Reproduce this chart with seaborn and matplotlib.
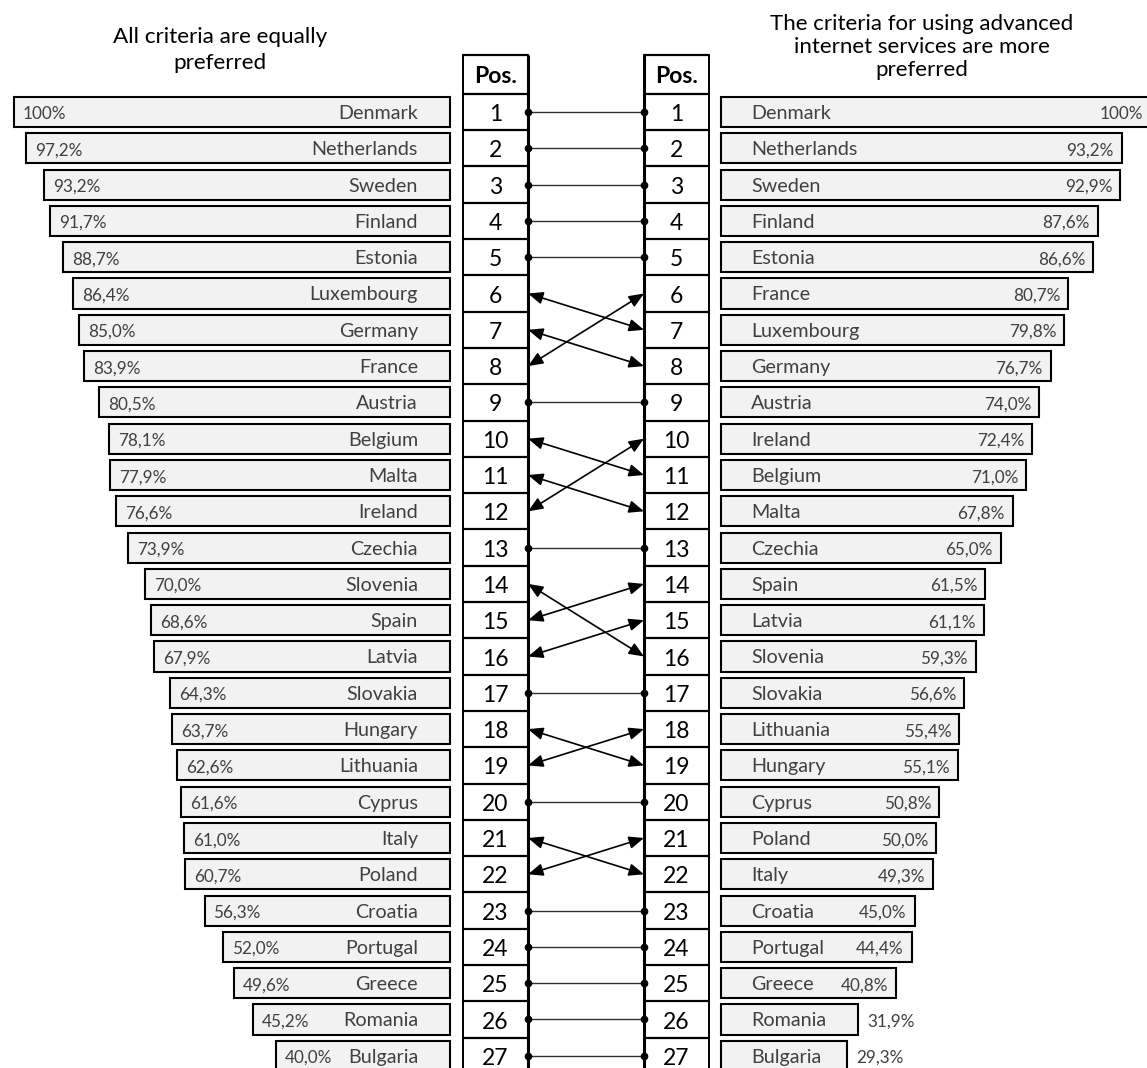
import matplotlib
matplotlib.use("Agg")
import matplotlib.pyplot as plt
import seaborn as sns
import pandas as pd

# ---- data -------------------------------------------------------------
left_countries = ["Denmark", "Netherlands", "Sweden", "Finland", "Estonia",
                  "Luxembourg", "Germany", "France", "Austria", "Belgium",
                  "Malta", "Ireland", "Czechia", "Slovenia", "Spain", "Latvia",
                  "Slovakia", "Hungary", "Lithuania", "Cyprus", "Italy",
                  "Poland", "Croatia", "Portugal", "Greece", "Romania",
                  "Bulgaria"]
left_values = [100, 97.2, 93.2, 91.7, 88.7, 86.4, 85.0, 83.9, 80.5, 78.1,
               77.9, 76.6, 73.9, 70.0, 68.6, 67.9, 64.3, 63.7, 62.6, 61.6,
               61.0, 60.7, 56.3, 52.0, 49.6, 45.2, 40.0]

right_countries = ["Denmark", "Netherlands", "Sweden", "Finland", "Estonia",
                   "France", "Luxembourg", "Germany", "Austria", "Ireland",
                   "Belgium", "Malta", "Czechia", "Spain", "Latvia",
                   "Slovenia", "Slovakia", "Lithuania", "Hungary", "Cyprus",
                   "Poland", "Italy", "Croatia", "Portugal", "Greece",
                   "Romania", "Bulgaria"]
right_values = [100, 93.2, 92.9, 87.6, 86.6, 80.7, 79.8, 76.7, 74.0, 72.4,
                71.0, 67.8, 65.0, 61.5, 61.1, 59.3, 56.6, 55.4, 55.1, 50.8,
                50.0, 49.3, 45.0, 44.4, 40.8, 31.9, 29.3]

left_title = "All criteria are equally\npreferred"
right_title = "The criteria for using advanced\ninternet services are more\npreferred"
pos_header = "Pos."

# ---- layout (pixels) --------------------------------------------------
W, H = 1147, 1068
ROW0, PITCH = 112.0, 36.3          # centre of first row, row spacing
Y_BOTTOM = (H - ROW0) / PITCH
Y_TOP = -ROW0 / PITCH

NAME_FS, PCT_FS = 14.2, 12.3


def pct(v):
    return "100%" if v == 100 else f"{v:.1f}".replace(".", ",") + "%"


sns.set_theme(style="white")
plt.rcParams["font.family"] = ["Lato", "DejaVu Sans"]

fig = plt.figure(figsize=(W / 100, H / 100), dpi=100)
fig.patch.set_facecolor("white")

# overlay canvas for the position columns and connectors
mid = fig.add_axes([0, 0, 1, 1])
mid.set_xlim(0, W)
mid.set_ylim(Y_BOTTOM, Y_TOP)
mid.axis("off")

n = len(left_countries)
hdr_top = (55 - ROW0) / PITCH
for x0, x1, thick_left in [(463, 528, False), (644, 709, True)]:
    lw_l, lw_r = (2.2, 1.4) if thick_left else (1.4, 2.2)
    mid.plot([x0, x0], [hdr_top, Y_BOTTOM + 1], color="black", lw=lw_l,
             solid_capstyle="butt")
    mid.plot([x1, x1], [hdr_top, Y_BOTTOM + 1], color="black", lw=lw_r,
             solid_capstyle="butt")
    mid.plot([x0, x1], [hdr_top, hdr_top], color="black", lw=1.6)
    for b in range(n + 1):
        mid.plot([x0, x1], [b - 0.5, b - 0.5], color="black", lw=1.6)
    xc = (x0 + x1) / 2
    mid.text(xc, (hdr_top - 0.5) / 2 + 0.05, pos_header, ha="center",
             va="center", fontsize=16.5, fontweight="bold", color="black")
    for i in range(n):
        mid.text(xc, i + 0.07, str(i + 1), ha="center", va="center",
                 fontsize=16.5, color="black")

# connectors between ranks
XL, XR = 528, 644
for i, c in enumerate(left_countries):
    j = right_countries.index(c)
    if i == j:
        mid.plot([XL, XR], [i, i], color="#303030", lw=1.0, marker="o",
                 markersize=4.5, markerfacecolor="black",
                 markeredgecolor="black")
    else:
        mid.annotate("", xy=(XR, j), xytext=(XL, i),
                     arrowprops=dict(arrowstyle="<|-|>,head_length=0.6,head_width=0.25",
                                     color="black", lw=1.2, mutation_scale=15,
                                     shrinkA=0, shrinkB=0))

# ---- left bars (growing leftwards) -----------------------------------
PXL = 4.36
axl = fig.add_axes([0, 0, 460 / W, 1])
dfl = pd.DataFrame({"country": left_countries, "value": left_values})
sns.barplot(data=dfl, x="value", y="country", orient="h", color="#f2f2f2",
            saturation=1, edgecolor="black", linewidth=1.5, width=0.83,
            ax=axl)
axl.set_xlim(450 / PXL, -10 / PXL)
axl.set_ylim(Y_BOTTOM, Y_TOP)
axl.axis("off")
axl.patch.set_alpha(0)
for i, (c, v) in enumerate(zip(left_countries, left_values)):
    axl.text(v - 9 / PXL, i + 0.06, pct(v), ha="left", va="center",
             fontsize=PCT_FS, color="#404040")
    axl.text(32 / PXL, i + 0.04, c, ha="right", va="center",
             fontsize=NAME_FS, color="#404040")

# ---- right bars -------------------------------------------------------
PXR = 4.30
axr = fig.add_axes([711 / W, 0, 436 / W, 1])
dfr = pd.DataFrame({"country": right_countries, "value": right_values})
sns.barplot(data=dfr, x="value", y="country", orient="h", color="#f2f2f2",
            saturation=1, edgecolor="black", linewidth=1.5, width=0.83,
            ax=axr)
axr.set_xlim(-10 / PXR, 426 / PXR)
axr.set_ylim(Y_BOTTOM, Y_TOP)
axr.axis("off")
axr.patch.set_alpha(0)
for i, (c, v) in enumerate(zip(right_countries, right_values)):
    axr.text(30 / PXR, i + 0.04, c, ha="left", va="center",
             fontsize=NAME_FS, color="#404040")
    if v < 35:
        axr.text(v + 9 / PXR, i + 0.06, pct(v), ha="left", va="center",
                 fontsize=PCT_FS, color="#404040")
    else:
        axr.text(v - 8 / PXR, i + 0.06, pct(v), ha="right", va="center",
                 fontsize=PCT_FS, color="#404040")

# ---- column titles ----------------------------------------------------
fig.text(220 / W, 1 - 50 / H, left_title, ha="center", va="center",
         fontsize=16.2, color="black", linespacing=1.4)
fig.text(922 / W, 1 - 47 / H, right_title, ha="center", va="center",
         fontsize=16.0, color="black", linespacing=1.17)

fig.savefig("out.png", dpi=100, facecolor="white")
